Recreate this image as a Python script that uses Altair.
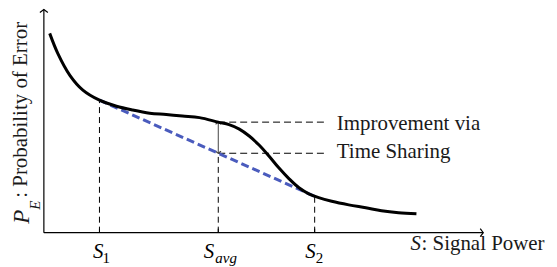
import altair as alt
import pandas as pd

# ---- data (abstract units 0..100) ----
S_curve = [1.3, 3.1, 5.8, 8.7, 12.4, 16.2, 19.8, 23.6, 27.3, 30.9, 34.7, 38.9,
           41.3, 43.6, 45.8, 48.0, 50.2, 52.4, 54.7, 56.9, 59.1, 61.3, 64.2, 68.0,
           71.8, 75.3, 79.1, 83.1]
Pe_curve = [88.9, 80.0, 70.2, 63.6, 59.1, 56.4, 54.7, 53.3, 52.7, 52.0, 51.3, 49.3,
            48.2, 46.2, 43.1, 39.1, 34.2, 28.9, 24.0, 20.0, 17.3, 15.6, 14.0, 12.4,
            11.1, 9.8, 8.9, 8.4]

tick_main = ["S", "S", "S"]
tick_sub = ["1", "avg", "2"]
tick_S = [12.4, 38.9, 60.4]
tick_Pe = [59.1, 49.3, 16.2]        # curve value at S1, Savg, S2
annot_end_S = 63.1
annot_lines = ["Improvement via", "Time Sharing"]
x_title = ["S", ": Signal Power"]
y_title = ["P", "E", ": Probability of Error"]

FONT = "Liberation Serif"
W, H = 450, 225
BLUE = "#4a5bbd"

# time-sharing line between (S1, Pe1) and (S2, Pe2)
S1, Savg, S2 = tick_S
P1, Pcur, P2 = tick_Pe
Pts = P1 + (Savg - S1) / (S2 - S1) * (P2 - P1)

xs = alt.Scale(domain=[0, 100], nice=False, zero=False)
ys = alt.Scale(domain=[0, 100], nice=False, zero=False)

curve_df = pd.DataFrame({"S": S_curve, "Pe": Pe_curve})
ts_df = pd.DataFrame({"S": [S1, S2], "Pe": [P1, P2]})
vert_df = pd.DataFrame({"S": tick_S, "lo": [0, 0, 0], "hi": [P1, Pts, P2]})
hor_df = pd.DataFrame({"S": [Savg, Savg], "S2": [annot_end_S, annot_end_S], "Pe": [Pcur, Pts]})
arr_df = pd.DataFrame({"S": [Savg], "lo": [Pts], "hi": [Pcur]})
head_df = pd.DataFrame({"S": [Savg, Savg], "Pe": [Pcur, Pts], "ang": [0, 180]})
tick_df = pd.DataFrame({"S": tick_S, "lo": [0, 0, 0], "hi": [1.8, 1.8, 1.8],
                        "main": tick_main, "sub": tick_sub})

X = lambda: alt.X("S:Q", scale=xs, axis=None)

layers = []

# axes
layers.append(alt.Chart(pd.DataFrame({"a": [0]})).mark_rule(color="black", strokeWidth=1.2)
              .encode(x=alt.value(0), y=alt.value(1), y2=alt.value(H)))
layers.append(alt.Chart(pd.DataFrame({"a": [0]})).mark_rule(color="black", strokeWidth=1.2)
              .encode(x=alt.value(0), x2=alt.value(441), y=alt.value(H)))
chev = "M-1,0.75L0,0L1,0.75"
layers.append(alt.Chart(pd.DataFrame({"a": [0]})).mark_point(
    shape=chev, filled=False, color="black", strokeWidth=1.2, size=64, opacity=1)
    .encode(x=alt.value(0), y=alt.value(1)))
layers.append(alt.Chart(pd.DataFrame({"a": [0]})).mark_point(
    shape=chev, filled=False, color="black", strokeWidth=1.2, size=64, opacity=1, angle=90)
    .encode(x=alt.value(441), y=alt.value(H)))

# ticks
layers.append(alt.Chart(tick_df).mark_rule(color="black", strokeWidth=1)
              .encode(x=X(), y=alt.Y("lo:Q", scale=ys, axis=None), y2="hi:Q"))

# dashed verticals
layers.append(alt.Chart(vert_df).mark_rule(color="black", strokeWidth=1, strokeDash=[6, 4])
              .encode(x=X(), y=alt.Y("lo:Q", scale=ys, axis=None), y2="hi:Q"))
# dashed horizontals
layers.append(alt.Chart(hor_df).mark_rule(color="black", strokeWidth=1, strokeDash=[7, 4])
              .encode(x=X(), x2="S2:Q", y=alt.Y("Pe:Q", scale=ys, axis=None)))
# double arrow
layers.append(alt.Chart(arr_df).mark_rule(color="#444444", strokeWidth=1)
              .encode(x=X(), y=alt.Y("lo:Q", scale=ys, axis=None), y2="hi:Q"))
layers.append(alt.Chart(head_df).mark_point(
    shape=chev, filled=False, color="#444444", strokeWidth=1.2, size=30, opacity=1)
    .encode(x=X(), y=alt.Y("Pe:Q", scale=ys, axis=None), angle=alt.Angle("ang:Q", scale=None)))

# time-sharing line
layers.append(alt.Chart(ts_df).mark_line(color=BLUE, strokeWidth=3, strokeDash=[8, 4])
              .encode(x=X(), y=alt.Y("Pe:Q", scale=ys, axis=None)))
# Pe curve
layers.append(alt.Chart(curve_df).mark_line(color="black", strokeWidth=3, interpolate="catmull-rom")
              .encode(x=X(), y=alt.Y("Pe:Q", scale=ys, axis=None)))

# tick labels (S with subscript)
offsets = [(4, 3), (-4, -3), (1, 1)]
for i, (dS, dSub) in enumerate(offsets):
    d = tick_df.iloc[[i]]
    layers.append(alt.Chart(d).mark_text(font=FONT, fontSize=21, fontStyle="italic", align="right",
                                         baseline="alphabetic", dx=dS, color="black")
                  .encode(x=X(), y=alt.value(250), text="main:N"))
    layers.append(alt.Chart(d).mark_text(font=FONT, fontSize=15,
                                         fontStyle="italic" if i == 1 else "normal",
                                         align="left", baseline="alphabetic", dx=dSub, color="black")
                  .encode(x=X(), y=alt.value(255), text="sub:N"))

# annotation
for txt, yy in zip(annot_lines, [122, 150]):
    layers.append(alt.Chart(pd.DataFrame({"t": [txt]})).mark_text(
        font=FONT, fontSize=21, align="left", baseline="alphabetic", color="#1a1a1a")
        .encode(x=alt.value(294), y=alt.value(yy), text="t:N"))

# x title
layers.append(alt.Chart(pd.DataFrame({"t": [x_title[0]]})).mark_text(
    font=FONT, fontSize=21, fontStyle="italic", align="left", baseline="alphabetic", color="#1a1a1a")
    .encode(x=alt.value(368), y=alt.value(242), text="t:N"))
layers.append(alt.Chart(pd.DataFrame({"t": [x_title[1]]})).mark_text(
    font=FONT, fontSize=21, align="left", baseline="alphabetic", color="#1a1a1a")
    .encode(x=alt.value(379), y=alt.value(242), text="t:N"))

# y title (rotated)
layers.append(alt.Chart(pd.DataFrame({"t": [y_title[0]]})).mark_text(
    font=FONT, fontSize=23, fontStyle="italic", align="left", baseline="alphabetic", angle=270,
    color="#1a1a1a").encode(x=alt.value(-15), y=alt.value(216), text="t:N"))
layers.append(alt.Chart(pd.DataFrame({"t": [y_title[1]]})).mark_text(
    font=FONT, fontSize=15, fontStyle="italic", align="left", baseline="alphabetic", angle=270,
    color="#1a1a1a").encode(x=alt.value(-4), y=alt.value(202), text="t:N"))
layers.append(alt.Chart(pd.DataFrame({"t": [y_title[2]]})).mark_text(
    font=FONT, fontSize=21, align="left", baseline="alphabetic", angle=270,
    color="#1a1a1a").encode(x=alt.value(-17), y=alt.value(190), text="t:N"))

chart = alt.layer(*layers).properties(
    width=W, height=H,
    autosize=alt.AutoSizeParams(type="none"),
    padding={"left": 36, "top": 0, "right": 57, "bottom": 34},
    background="white",
).configure_view(stroke=None)

chart.save("out.html", embed_options={"renderer": "svg", "actions": False})
